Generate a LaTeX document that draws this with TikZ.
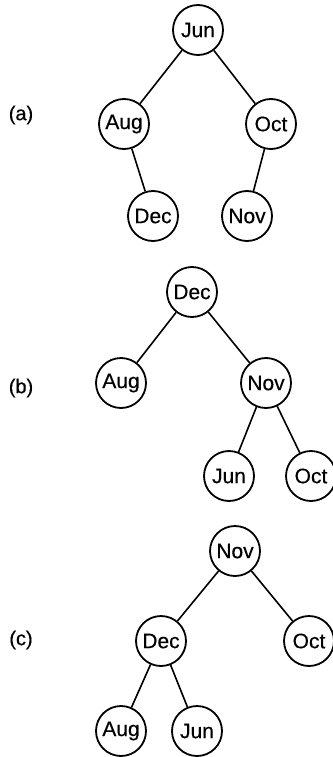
\documentclass[tikz,border=0pt]{standalone}
\usepackage{fontspec}
\setmainfont[FakeBold=0.4]{Liberation Sans}
\begin{document}
\begin{tikzpicture}[x=1pt,y=-1pt,
  month/.style={circle,draw,line width=1.8pt,minimum size=50pt,inner sep=0pt,font=\fontsize{21}{23}\selectfont},
  part/.style={font=\fontsize{20}{22}\selectfont},
  edge/.style={line width=1.6pt}]
\useasboundingbox (0,0) rectangle (332,757);
% (a)
\node[part] (la) at (21,115) {(a)};
\node[month] (aJun) at (198,30) {Jun};
\node[month] (aAug) at (124,124) {Aug};
\node[month] (aOct) at (271,124) {Oct};
\node[month] (aDec) at (153,216) {Dec};
\node[month] (aNov) at (247,216) {Nov};
\draw[edge] (aJun) -- (aAug);
\draw[edge] (aJun) -- (aOct);
\draw[edge] (aAug) -- (aDec);
\draw[edge] (aOct) -- (aNov);
% (b)
\node[part] (lb) at (21,388) {(b)};
\node[month] (bDec) at (192,292) {Dec};
\node[month] (bAug) at (121,383) {Aug};
\node[month] (bNov) at (266,383) {Nov};
\node[month] (bJun) at (229,476) {Jun};
\node[month] (bOct) at (311,476) {Oct};
\draw[edge] (bDec) -- (bAug);
\draw[edge] (bDec) -- (bNov);
\draw[edge] (bNov) -- (bJun);
\draw[edge] (bNov) -- (bOct);
% (c)
\node[part] (lc) at (21,640) {(c)};
\node[month] (cNov) at (235,551) {Nov};
\node[month] (cDec) at (161,641) {Dec};
\node[month] (cOct) at (309,641) {Oct};
\node[month] (cAug) at (121,731) {Aug};
\node[month] (cJun) at (197,731) {Jun};
\draw[edge] (cNov) -- (cDec);
\draw[edge] (cNov) -- (cOct);
\draw[edge] (cDec) -- (cAug);
\draw[edge] (cDec) -- (cJun);
\end{tikzpicture}
\end{document}
